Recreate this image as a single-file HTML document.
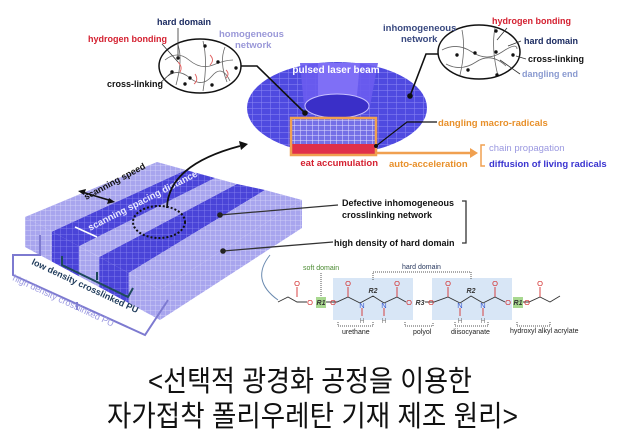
<!DOCTYPE html>
<html><head><meta charset="utf-8"><style>
body{margin:0;background:#fff;width:618px;height:434px;overflow:hidden}
svg{display:block}
text{font-family:"Liberation Sans",Arial,sans-serif}
.k{font-family:"Liberation Sans","Noto Sans CJK KR",sans-serif}
</style></head><body>
<svg width="618" height="434" viewBox="0 0 618 434" xmlns="http://www.w3.org/2000/svg">
<defs>
<pattern id="g1" width="5" height="5" patternUnits="userSpaceOnUse"><rect width="5" height="5" fill="#a8a5ee"/><path d="M0 0H5M0 0V5" stroke="#d8d6fa" stroke-width="0.8"/></pattern>
<pattern id="g2" width="6" height="6" patternUnits="userSpaceOnUse"><rect width="6" height="6" fill="#4a44d8"/><path d="M0 0H6M0 0V6" stroke="#8a86f0" stroke-width="0.8"/></pattern>
<pattern id="g3" width="9" height="6" patternUnits="userSpaceOnUse"><rect width="9" height="6" fill="#4f4ae0"/><path d="M0 0H9M0 0V6" stroke="#8c88f4" stroke-width="1"/></pattern>
<pattern id="g4" width="6" height="5" patternUnits="userSpaceOnUse"><rect width="6" height="5" fill="#7570e6"/><path d="M0 0H6M0 0V5" stroke="#e2e0ff" stroke-width="1"/></pattern>
</defs>

<!-- disc -->
<ellipse cx="337" cy="108" rx="90" ry="46" fill="url(#g3)"/>
<polygon points="300,63 378,63 370,106 304,106" fill="#6a5cf0" opacity="0.9"/>
<polygon points="318,63 360,63 356,106 318,106" fill="#7f6ff6"/>
<ellipse cx="337" cy="106" rx="32" ry="12" fill="#3a2fc8" stroke="#c8c0ff"/>
<rect x="292" y="118" width="83" height="27" fill="url(#g4)"/>
<rect x="292" y="144" width="83" height="11" fill="#e0304a"/>
<rect x="291" y="118" width="85" height="37" fill="none" stroke="#f0a050" stroke-width="2.5"/>
<text x="336" y="73" font-size="10" fill="#fff" font-weight="bold" text-anchor="middle">pulsed laser beam</text>

<!-- left circle -->
<ellipse cx="200" cy="66" rx="41" ry="27" fill="#fff" stroke="#111" stroke-width="1.5"/>
<g stroke="#666" fill="none" stroke-width="0.8"><path d="M165 60 q12 -10 24 0 t24 5 t20 -5"/><path d="M168 76 q10 -8 22 2 t22 -2 t18 5"/><path d="M178 45 q5 15 -2 40"/><path d="M203 41 q5 20 0 50"/><path d="M225 47 q-6 15 2 35"/></g>
<g stroke="#e06060" fill="none" stroke-width="0.9"><path d="M178 62 q5 5 2 10"/><path d="M210 55 q5 5 0 10"/><path d="M195 74 q4 6 -1 10"/><path d="M226 70 q4 4 0 8"/></g>
<g fill="#111"><circle cx="178" cy="58" r="1.7"/><circle cx="205" cy="46" r="1.7"/><circle cx="218" cy="62" r="1.7"/><circle cx="190" cy="78" r="1.7"/><circle cx="212" cy="85" r="1.7"/><circle cx="172" cy="72" r="1.7"/><circle cx="236" cy="68" r="1.7"/><circle cx="185" cy="84" r="1.7"/></g>
<text x="157" y="25" font-size="9" font-weight="bold" fill="#1a2a60">hard domain</text>
<text x="88" y="42" font-size="9" font-weight="bold" fill="#d42030">hydrogen bonding</text>
<text x="219" y="37" font-size="9.5" font-weight="bold" fill="#9a98d8">homogeneous</text>
<text x="235" y="48" font-size="9.5" font-weight="bold" fill="#9a98d8">network</text>
<text x="107" y="87" font-size="9" font-weight="bold" fill="#111">cross-linking</text>
<path d="M162 44 L178 62 M178 28 V58 M158 85 L172 72" stroke="#333" stroke-width="0.8" fill="none"/>
<path d="M241 66 H257 L305 113" stroke="#111" stroke-width="1.6" fill="none"/>
<circle cx="305" cy="113" r="2.8" fill="#111"/>

<!-- right circle -->
<ellipse cx="479" cy="52" rx="41" ry="27" fill="#fff" stroke="#111" stroke-width="1.5"/>
<g stroke="#666" fill="none" stroke-width="0.8"><path d="M442 50 q15 -8 30 2 t30 0 t15 -3"/><path d="M446 64 q15 8 30 -2 t30 4"/><path d="M462 30 q4 20 -2 45"/><path d="M495 28 q-4 20 3 48"/></g>
<g fill="#111"><circle cx="457" cy="55" r="1.7"/><circle cx="475" cy="53" r="1.7"/><circle cx="496" cy="52" r="1.7"/><circle cx="468" cy="70" r="1.7"/><circle cx="497" cy="75" r="1.7"/><circle cx="513" cy="55" r="1.7"/><circle cx="496" cy="31" r="1.7"/></g>
<text x="383" y="31" font-size="9.5" font-weight="bold" fill="#3a4a80">inhomogeneous</text>
<text x="401" y="42" font-size="9.5" font-weight="bold" fill="#3a4a80">network</text>
<text x="492" y="24" font-size="9" font-weight="bold" fill="#d42030">hydrogen bonding</text>
<text x="524" y="44" font-size="9" font-weight="bold" fill="#1a2a60">hard domain</text>
<text x="528" y="62" font-size="9" font-weight="bold" fill="#111">cross-linking</text>
<text x="522" y="77" font-size="9" font-weight="bold" fill="#8a9ad0">dangling end</text>
<path d="M507 28 L497 40 M521 41 L508 46 M526 59 L516 56 M520 74 L500 60" stroke="#333" stroke-width="0.8" fill="none"/>
<path d="M438 54 H426 L410 96" stroke="#111" stroke-width="1.6" fill="none"/>
<circle cx="410" cy="96" r="2.8" fill="#111"/>

<!-- right labels -->
<path d="M376 146 L407 122 H437" stroke="#111" stroke-width="1.2" fill="none"/>
<circle cx="376" cy="146" r="2" fill="#111"/>
<text x="438" y="126" font-size="9.5" font-weight="bold" fill="#e8902a">dangling macro-radicals</text>
<path d="M375 153 H470" stroke="#f0a050" stroke-width="2.5"/>
<polygon points="470,148 478,153 470,158" fill="#f0a050"/>
<path d="M485 145 H481 V166 H485" stroke="#f0a050" stroke-width="1.5" fill="none"/>
<text x="489" y="151" font-size="9.5" fill="#9a98e0">chain propagation</text>
<text x="489" y="167" font-size="9.5" font-weight="bold" fill="#3a34d0">diffusion of living radicals</text>
<text x="378" y="166" font-size="9.5" font-weight="bold" fill="#d42030" text-anchor="end">eat accumulation</text>
<text x="389" y="167" font-size="9.5" font-weight="bold" fill="#e8902a">auto-acceleration</text>

<!-- slab -->
<polygon points="25,217 160,290 160,320 25,247" fill="url(#g1)"/>
<polygon points="52,231.6 79,246.2 79,276.2 52,261.6" fill="url(#g2)"/>
<polygon points="99.3,257 128.6,273 128.6,303 99.3,287" fill="url(#g2)"/>
<polygon points="160,290 302,200 302,228 160,320" fill="url(#g1)"/>
<polygon points="25,217 52,231.6 186,170 157,162" fill="url(#g1)"/>
<polygon points="52,231.6 79,246.2 215,178 186,170" fill="url(#g2)"/>
<polygon points="79,246.2 99.3,257 237,184 215,178" fill="url(#g1)"/>
<polygon points="99.3,257 128.6,273 265,190 237,184" fill="url(#g2)"/>
<polygon points="128.6,273 160,290 302,200 265,190" fill="url(#g1)"/>
<text transform="translate(86,200) rotate(-28)" font-size="9" font-weight="bold" fill="#111">scanning speed</text>
<path d="M82 192 L112 201" stroke="#111" stroke-width="1.6"/>
<polygon points="78,191 86,189 84,195" fill="#111"/><polygon points="115,202 107,204 109,198" fill="#111"/>
<text transform="translate(90,231) rotate(-27)" font-size="9.5" font-weight="bold" fill="#e8e8ff">scanning spacing distance</text>
<path d="M75 227 L97 237" stroke="#fff" stroke-width="1.6"/>
<ellipse cx="159" cy="222" rx="26" ry="16" fill="none" stroke="#111" stroke-width="2" stroke-dasharray="2 2"/>
<path d="M167 208 Q168 165 240 146" stroke="#111" stroke-width="1.8" fill="none"/>
<polygon points="239,141 248,144 241,150" fill="#111"/>
<path d="M40 235 V255 H13 V275 L145 335 L168 300" stroke="#7d7ad0" stroke-width="2" fill="none"/>
<path d="M62 256 V265 L128 297 L133 288 M97 280 V272" stroke="#1e4a5a" stroke-width="2" fill="none"/>
<path d="M77 310 V302" stroke="#7d7ad0" stroke-width="2"/>
<text transform="translate(31,264) rotate(25)" font-size="9" font-weight="bold" fill="#1e3a5a">low density crosslinked PU</text>
<text transform="translate(12,280) rotate(25)" font-size="9" fill="#9a98e0">high density crosslinked PU</text>

<path d="M220 215 L338 205" stroke="#333" stroke-width="1.3"/><circle cx="220" cy="215" r="2.8" fill="#222"/>
<path d="M223 251 L333 242" stroke="#333" stroke-width="1.3"/><circle cx="223" cy="251" r="2.8" fill="#222"/>
<text x="342" y="206" font-size="9" font-weight="bold" fill="#111">Defective inhomogeneous</text>
<text x="342" y="218" font-size="9" font-weight="bold" fill="#111">crosslinking network</text>
<text x="334" y="246" font-size="9" font-weight="bold" fill="#111">high density of hard domain</text>
<path d="M462 201 H466 V243 H462" stroke="#333" stroke-width="1.3" fill="none"/>

<!-- chemistry -->
<path d="M270 255 Q250 280 278 300" stroke="#6a8ab0" fill="none"/>
<rect x="333" y="278" width="80" height="42" fill="#d8e6f6"/>
<rect x="432" y="278" width="80" height="42" fill="#d8e6f6"/>
<rect x="316" y="297" width="10" height="11" fill="#a8d890"/>
<rect x="513" y="297" width="10" height="11" fill="#a8d890"/>
<path d="M278 302 L288 297 L297 302 L307 302 M326 302 H337 L348 297 L360 303 L373 296 L384 303 L397 297 L406 302 M425 302 H434 L448 297 L460 303 L471 296 L483 303 L495 297 L505 302 M523 302 H529 L540 297 L550 302 L560 296" stroke="#333" fill="none" stroke-width="0.9"/>
<path d="M297 287 V297 M348 287 V297 M397 287 V297 M448 287 V297 M495 287 V297 M540 287 V297 M362 308 V316 M384 308 V316 M460 308 V316 M483 308 V316" stroke="#d43030" stroke-width="0.9"/>
<g font-size="7.5" fill="#d43030" text-anchor="middle"><text x="297" y="286">O</text><text x="348" y="286">O</text><text x="397" y="286">O</text><text x="448" y="286">O</text><text x="495" y="286">O</text><text x="540" y="286">O</text><text x="310" y="305">O</text><text x="333" y="305">O</text><text x="409" y="305">O</text><text x="431" y="305">O</text><text x="508" y="305">O</text><text x="527" y="305">O</text></g>
<g font-size="7.5" fill="#3a5ad0" text-anchor="middle"><text x="362" y="308">N</text><text x="384" y="308">N</text><text x="460" y="308">N</text><text x="483" y="308">N</text></g>
<g font-size="7" fill="#888" text-anchor="middle"><text x="362" y="323">H</text><text x="384" y="323">H</text><text x="460" y="323">H</text><text x="483" y="323">H</text></g>
<g font-size="7" fill="#333" font-style="italic" font-weight="bold" text-anchor="middle"><text x="373" y="293">R2</text><text x="420" y="305">R3</text><text x="471" y="293">R2</text><text x="321" y="305">R1</text><text x="518" y="305">R1</text></g>
<text x="303" y="270" font-size="7" fill="#4a8a30">soft domain</text>
<path d="M321 273 V296" stroke="#555" stroke-dasharray="1 1"/>
<text x="402" y="269" font-size="7" fill="#2a3a60">hard domain</text>
<path d="M373 280 V272 H471 V280" stroke="#555" stroke-dasharray="1 1" fill="none"/>
<path d="M338 322 V326 H373 V322 M405 322 V326 H433 V322 M455 322 V326 H488 V322 M517 322 V326 H550 V322" stroke="#555" stroke-dasharray="1 1" fill="none"/>
<g font-size="7" fill="#222"><text x="342" y="334">urethane</text><text x="413" y="334">polyol</text><text x="451" y="334">diisocyanate</text><text x="510" y="333">hydroxyl alkyl acrylate</text></g>

<text x="148" y="391" class="k" font-size="29" fill="#111" textLength="324" lengthAdjust="spacingAndGlyphs">&lt;선택적 광경화 공정을 이용한</text>
<text x="107" y="426" class="k" font-size="29" fill="#111" textLength="411" lengthAdjust="spacingAndGlyphs">자가접착 폴리우레탄 기재 제조 원리&gt;</text>
</svg>
</body></html>
